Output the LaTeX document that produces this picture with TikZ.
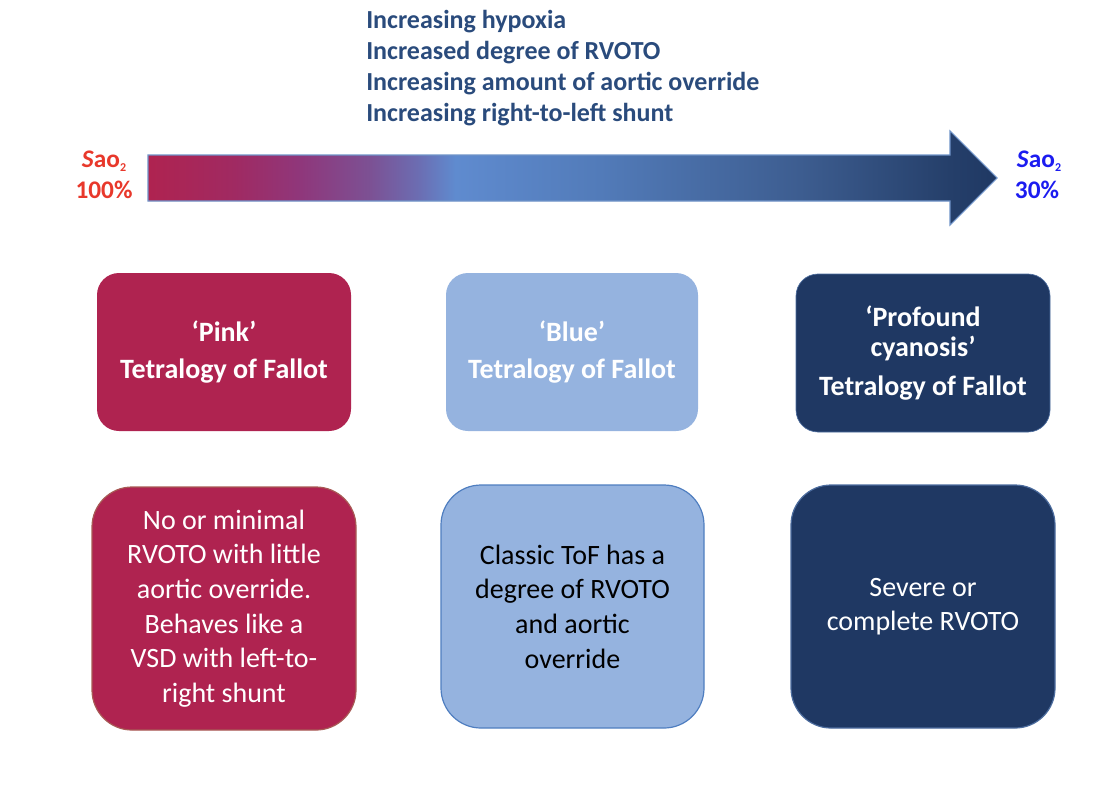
\documentclass[tikz,border=0pt]{standalone}
\usepackage{fontspec}
\setmainfont{Carlito}
\definecolor{pinkc}{HTML}{AF2350}
\definecolor{lblue}{HTML}{95B3DF}
\definecolor{navy}{HTML}{1F3863}
\definecolor{toptext}{HTML}{2A4B7C}
\definecolor{redtext}{HTML}{E8382B}
\definecolor{bluetext}{HTML}{1C1CF0}
\definecolor{arrowedge}{HTML}{6F93C8}
\definecolor{pinkedge}{HTML}{A85A55}
\definecolor{blueedge}{HTML}{4F7EC0}
\definecolor{navyedge}{HTML}{4C6C9E}
\definecolor{gA}{HTML}{A02A62}
\definecolor{gB}{HTML}{8F377B}
\definecolor{gC}{HTML}{7C5194}
\definecolor{gC2}{HTML}{6B6EB3}
\definecolor{gD}{HTML}{5F8BCF}
\definecolor{gE}{HTML}{527BB9}
\definecolor{gF}{HTML}{3D5D90}
\definecolor{gG}{HTML}{253F6A}
\definecolor{gH}{HTML}{1F3863}
% TikZ maps 25bp..75bp of the shading onto the path's bounding box
\pgfdeclarehorizontalshading{tofgrad}{100bp}{%
  color(0bp)=(pinkc);
  color(25bp)=(pinkc);
  color(30.1bp)=(gA);
  color(34bp)=(gB);
  color(38.1bp)=(gC);
  color(41bp)=(gC2);
  color(43.1bp)=(gD);
  color(51.6bp)=(gE);
  color(63.4bp)=(gF);
  color(72.2bp)=(gG);
  color(75bp)=(gH);
  color(100bp)=(gH)}
\tikzset{
  toptxt/.style={anchor=base west, inner sep=0pt, text=toptext, font=\fontsize{19.5}{23}\selectfont\bfseries},
  satxt/.style={anchor=base, inner sep=0pt, font=\fontsize{19}{21}\selectfont\bfseries},
  headbox/.style={rounded corners=16.5pt, minimum width=190.5pt, minimum height=118.5pt,
    align=center, text=white, inner sep=0pt, font=\fontsize{21}{21}\selectfont\bfseries},
  descbox/.style={rounded corners=30pt, minimum width=198pt, minimum height=182.25pt,
    align=center, inner sep=0pt, line width=0.9pt, font=\fontsize{21}{26}\selectfont}
}
\newcommand{\saotwo}{\textit{S}ao\raisebox{-0.35ex}{\fontsize{9}{9}\selectfont 2}}
\begin{document}
\begin{tikzpicture}[x=0.75pt,y=-0.75pt]
\useasboundingbox (0,0) rectangle (1112,800);
% top texts
\node[toptxt] (t1) at (366,28) {Increasing hypoxia};
\node[toptxt] (t2) at (366,59) {Increased degree of RVOTO};
\node[toptxt] (t3) at (366,90) {Increasing amount of aortic override};
\node[toptxt] (t4) at (366,121) {Increasing right-to-left shunt};
% gradient arrow
\shadedraw[shading=tofgrad, draw=arrowedge, line width=0.8pt, line join=miter]
  (148,155) -- (950,155) -- (950,131) -- (997,178) -- (950,225) -- (950,201) -- (148,201) -- cycle;
% SaO2 labels
\node[satxt, text=redtext] (sl1) at (104,167) {\saotwo};
\node[satxt, text=redtext] (sl2) at (104,198) {100\%};
\node[satxt, text=bluetext] (sr1) at (1039,167) {\saotwo};
\node[satxt, text=bluetext] (sr2) at (1037,198) {30\%};
% heading boxes
\node[headbox, fill=pinkc] (h1) at (224,352) {‘Pink’\\[7pt]Tetralogy of Fallot};
\node[headbox, fill=lblue, minimum width=189pt] (h2) at (572,352) {‘Blue’\\[7pt]Tetralogy of Fallot};
\node[headbox, fill=navy, draw=navyedge, line width=0.5pt] (h3) at (923,353) {‘Profound\\[1.5pt]cyanosis’\\[8pt]Tetralogy of Fallot};
% description boxes
\node[descbox, fill=pinkc, draw=pinkedge, text=white] (d1) at (224,608.5)
  {No or minimal\\RVOTO with little\\aortic override.\\Behaves like a\\VSD with left-to-\\right shunt};
\node[descbox, fill=lblue, draw=blueedge, text=black, minimum width=197.25pt] (d2) at (572.5,606.5)
  {Classic ToF has a\\degree of RVOTO\\and aortic\\override};
\node[descbox, fill=navy, draw=navyedge, text=white] (d3) at (923,606.5)
  {Severe or\\complete RVOTO};
\end{tikzpicture}
\end{document}
